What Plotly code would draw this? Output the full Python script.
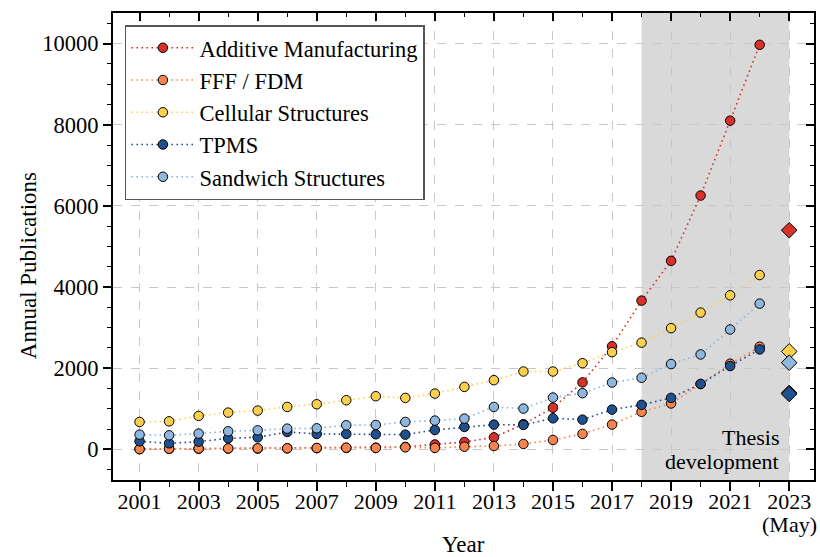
import plotly.graph_objects as go

# Annual publication counts per topic, 2001-2022
years = list(range(2001, 2023))
additive_mfg = [5, 10, 15, 20, 20, 25, 30, 35, 40, 60, 120, 180, 295, 620, 1025, 1650,
                2540, 3665, 4645, 6255, 8100, 9970]
fff_fdm = [5, 15, 20, 22, 25, 25, 33, 40, 35, 50, 35, 65, 82, 132, 230, 380,
           610, 925, 1130, 1610, 2110, 2530]
cellular = [675, 690, 823, 905, 955, 1045, 1111, 1210, 1309, 1267, 1374, 1539, 1704, 1918,
            1918, 2123, 2395, 2630, 2986, 3370, 3796, 4295]
tpms = [198, 148, 189, 272, 296, 428, 379, 379, 370, 362, 477, 551, 609, 601, 765, 732,
        979, 1096, 1268, 1611, 2053, 2462]
sandwich = [362, 346, 387, 444, 469, 510, 518, 593, 601, 675, 708, 757, 1045, 1004, 1276,
            1383, 1646, 1764, 2102, 2339, 2953, 3591]

# Partial year (up to May 2023)
partial_year = 2023
partial_vals = {
    "Additive Manufacturing": 5400,
    "FFF / FDM": 1390,
    "Cellular Structures": 2413,
    "TPMS": 1366,
    "Sandwich Structures": 2135,
}

series = [
    ("Additive Manufacturing", additive_mfg, "#d7312a"),
    ("FFF / FDM", fff_fdm, "#f6844f"),
    ("Cellular Structures", cellular, "#fdcf4f"),
    ("TPMS", tpms, "#21508e"),
    ("Sandwich Structures", sandwich, "#8fb6dd"),
]

tick_years = list(range(2001, 2024, 2))
tick_text = [str(y) for y in tick_years]

FONT = "Liberation Serif, Times New Roman, serif"

fig = go.Figure()

for name, vals, color in series:
    fig.add_trace(go.Scatter(
        x=years, y=vals, name=name, mode="lines+markers",
        line=dict(color=color, width=1.6, dash="1.6px,3.4px"),
        marker=dict(symbol="circle", size=9.5, color=color,
                    line=dict(color="black", width=1)),
    ))

for name, vals, color in series:
    fig.add_trace(go.Scatter(
        x=[partial_year], y=[partial_vals[name]], mode="markers", showlegend=False,
        marker=dict(symbol="diamond", size=12, color=color,
                    line=dict(color="black", width=1)),
    ))

# empty trace so the mirrored top/right axes get drawn
fig.add_trace(go.Scatter(x=[], y=[], xaxis="x2", yaxis="y2", showlegend=False,
                         hoverinfo="skip"))

x_range = [2000.1, 2023.84]
y_range = [-756, 10754]

# thesis development period
fig.add_shape(type="rect", xref="x", yref="paper", x0=2018, x1=2023, y0=0, y1=1,
              fillcolor="#d9d9d9", line=dict(width=0), layer="below")

txt_font = dict(family=FONT, size=22, color="black")
fig.add_annotation(text="Thesis", x=2023, y=300, xref="x", yref="y",
                   xanchor="right", yanchor="middle", xshift=-8,
                   showarrow=False, font=txt_font)
fig.add_annotation(text="development", x=2023, y=-290, xref="x", yref="y",
                   xanchor="right", yanchor="middle", xshift=-8,
                   showarrow=False, font=txt_font)
# second line of the last year label
fig.add_annotation(text="(May)", x=2023, y=0, xref="x", yref="paper",
                   xanchor="center", yanchor="top", yshift=-30,
                   showarrow=False, font=txt_font)

# axis titles
fig.add_annotation(text="Year", x=0.5, y=-0.139, xref="paper", yref="paper",
                   xanchor="center", yanchor="middle", showarrow=False,
                   font=dict(family=FONT, size=23, color="black"))
fig.add_annotation(text="Annual Publications", x=-0.1213, y=0.46, xref="paper",
                   yref="paper", xanchor="center", yanchor="middle", textangle=-90,
                   showarrow=False, font=dict(family=FONT, size=23, color="black"))

grid = dict(showgrid=True, gridcolor="#c8c8c8", gridwidth=1, griddash="dash")

fig.update_layout(
    width=820, height=557,
    margin=dict(l=113, r=6, t=13, b=77),
    paper_bgcolor="white", plot_bgcolor="white",
    font=dict(family=FONT, size=22, color="black"),
    showlegend=True,
    legend=dict(x=0.017, y=0.974, xanchor="left", yanchor="top",
                bgcolor="white", bordercolor="#555555", borderwidth=1.5,
                font=dict(family=FONT, size=22.5), tracegroupgap=0, itemwidth=63),
    xaxis=dict(
        range=x_range, tickmode="array", tickvals=tick_years, ticktext=tick_text,
        ticks="outside", ticklen=9, tickwidth=1.5, tickcolor="black",
        ticklabelstandoff=-8,
        showline=True, linecolor="black", linewidth=1.8, mirror=True,
        zeroline=False, tickfont=dict(size=22), automargin=False,
        minor=dict(ticks="outside", ticklen=5, tickwidth=1.3, tickcolor="black",
                   tick0=2000, dtick=1, showgrid=False),
        **grid,
    ),
    yaxis=dict(
        range=y_range, tickmode="linear", tick0=0, dtick=2000, tickformat="d",
        ticks="outside", ticklen=8, tickwidth=1.5, tickcolor="black",
        showline=True, linecolor="black", linewidth=1.8, mirror=True,
        zeroline=False, tickfont=dict(size=22.5), automargin=False,
        minor=dict(ticks="outside", ticklen=4, tickwidth=1.3, tickcolor="black",
                   tick0=0, dtick=500, showgrid=False),
        **grid,
    ),
    xaxis2=dict(
        overlaying="x", side="top", range=x_range, tickmode="array", tickvals=tick_years,
        showticklabels=False, ticks="inside", ticklen=8, tickwidth=1.5, tickcolor="black",
        showgrid=False, zeroline=False, showline=False, automargin=False,
        minor=dict(ticks="inside", ticklen=4, tickwidth=1.3, tickcolor="black",
                   tick0=2000, dtick=1, showgrid=False),
    ),
    yaxis2=dict(
        overlaying="y", side="right", anchor="x", range=y_range, tickmode="linear",
        tick0=0, dtick=2000, showticklabels=False, ticks="inside", ticklen=8,
        tickwidth=1.5, tickcolor="black", showgrid=False, zeroline=False, showline=False,
        automargin=False,
        minor=dict(ticks="inside", ticklen=4, tickwidth=1.3, tickcolor="black",
                   tick0=0, dtick=500, showgrid=False),
    ),
)

fig.write_html("out.html")
